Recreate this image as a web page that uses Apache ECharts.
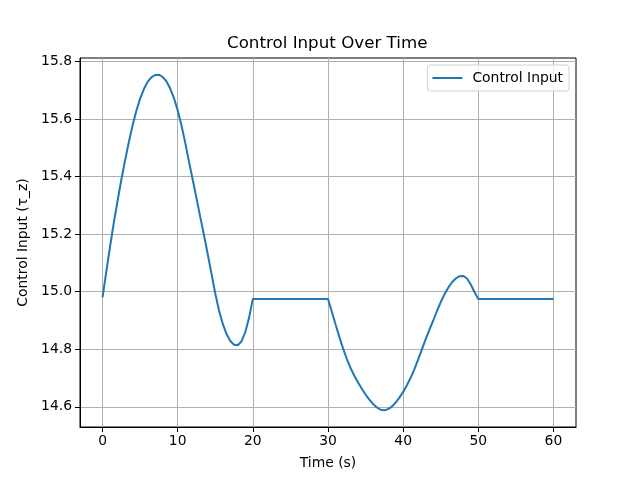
<!DOCTYPE html>
<html>
<head>
<meta charset="utf-8">
<script src="https://cdn.jsdelivr.net/npm/echarts@6/dist/echarts.min.js"></script>
<style>
html,body{margin:0;padding:0;background:#fff;}
#main{width:640px;height:480px;}
</style>
</head>
<body>
<div id="main"></div>
<script>
var title = 'Control Input Over Time';
var xLabel = 'Time (s)';
var yLabel = 'Control Input (τ_z)';
var seriesName = 'Control Input';
var xTicks = [0, 10, 20, 30, 40, 50, 60];
var yTicks = [14.6, 14.8, 15.0, 15.2, 15.4, 15.6, 15.8];

var time = [
  0, 0.5, 1, 1.5, 2, 2.5, 3, 3.5, 4, 4.5, 5, 5.5, 6, 6.5, 7, 7.5, 8, 8.5, 9, 9.5,
  10, 10.5, 11, 11.5, 12, 12.5, 13, 13.5, 14, 14.5, 15, 15.5, 16, 16.5, 17, 17.5, 18, 18.5, 19, 19.5,
  20, 30,
  30.5, 31, 31.5, 32, 32.5, 33, 33.5, 34, 34.5, 35, 35.5, 36, 36.5, 37, 37.5, 38, 38.5, 39, 39.5,
  40, 40.5, 41, 41.5, 42, 42.5, 43, 43.5, 44, 44.5, 45, 45.5, 46, 46.5, 47, 47.5, 48, 48.5, 49, 49.5,
  50, 60
];
var controlInput = [
  14.980, 15.070, 15.157, 15.240, 15.316, 15.389, 15.457, 15.520, 15.578, 15.629,
  15.671, 15.704, 15.729, 15.745, 15.753, 15.754, 15.746, 15.731, 15.706, 15.673,
  15.630, 15.578, 15.518, 15.452, 15.389, 15.325, 15.260, 15.196, 15.130, 15.062,
  14.994, 14.935, 14.888, 14.853, 14.829, 14.816, 14.814, 14.828, 14.860, 14.910,
  14.975, 14.975,
  14.931, 14.887, 14.844, 14.803, 14.767, 14.735, 14.708, 14.685, 14.663, 14.643,
  14.625, 14.610, 14.598, 14.590, 14.588, 14.592, 14.601, 14.615, 14.632,
  14.652, 14.675, 14.701, 14.731, 14.765, 14.800, 14.835, 14.868, 14.900, 14.933,
  14.964, 14.991, 15.014, 15.033, 15.046, 15.054, 15.055, 15.046, 15.025, 14.998,
  14.975, 14.975
];

var data = time.map(function (t, i) { return [t, controlInput[i]]; });

var font = 'DejaVu Sans';
var chart = echarts.init(document.getElementById('main'), null, {renderer: 'canvas'});
chart.setOption({
  animation: false,
  backgroundColor: '#ffffff',
  textStyle: {fontFamily: font},
  title: {
    text: title,
    left: 227, top: 35, padding: 0,
    textStyle: {fontFamily: font, fontSize: 16.7, fontWeight: 'normal', color: '#000'}
  },
  legend: {
    right: 71, top: 65,
    icon: 'rect', itemWidth: 30, itemHeight: 2,
    padding: [6, 6, 6, 5],
    borderColor: '#d0d0d0', borderWidth: 1, borderRadius: 3,
    backgroundColor: 'rgba(255,255,255,0.8)',
    textStyle: {fontFamily: font, fontSize: 13.9, color: '#000', padding: [0, 0, 0, 5]},
    data: [seriesName]
  },
  grid: {
    left: 80, top: 58, width: 496, height: 369,
    show: true, borderColor: '#000', borderWidth: 1, backgroundColor: 'transparent'
  },
  xAxis: {
    type: 'value', min: -3, max: 63,
    name: xLabel, nameLocation: 'middle', nameGap: 29,
    nameTextStyle: {fontFamily: font, fontSize: 13.9, color: '#000'},
    axisLine: {show: true, onZero: false, lineStyle: {color: '#000', width: 1}},
    axisTick: {show: true, inside: false, length: 5, customValues: xTicks, lineStyle: {color: '#000', width: 1}},
    axisLabel: {customValues: xTicks, margin: 7, fontFamily: font, fontSize: 13.9, color: '#000',
      formatter: function (v) { return String(Math.round(v)); }},
    splitLine: {show: true, lineStyle: {color: '#b0b0b0', width: 1}}
  },
  yAxis: {
    type: 'value', min: 14.530, max: 15.812,
    name: yLabel, nameLocation: 'middle', nameGap: 44, nameRotate: 90,
    nameTextStyle: {fontFamily: font, fontSize: 13.9, color: '#000'},
    axisLine: {show: true, onZero: false, lineStyle: {color: '#000', width: 1}},
    axisTick: {show: true, inside: false, length: 5, customValues: yTicks, lineStyle: {color: '#000', width: 1}},
    axisLabel: {customValues: yTicks, margin: 8, fontFamily: font, fontSize: 13.9, color: '#000',
      formatter: function (v) { return v.toFixed(1); }},
    splitLine: {show: true, lineStyle: {color: '#b0b0b0', width: 1}}
  },
  series: [{
    name: seriesName,
    type: 'line',
    data: data,
    showSymbol: false,
    symbol: 'none',
    smooth: false,
    lineStyle: {color: '#1f77b4', width: 2},
    itemStyle: {color: '#1f77b4'}
  }]
});
</script>
</body>
</html>
